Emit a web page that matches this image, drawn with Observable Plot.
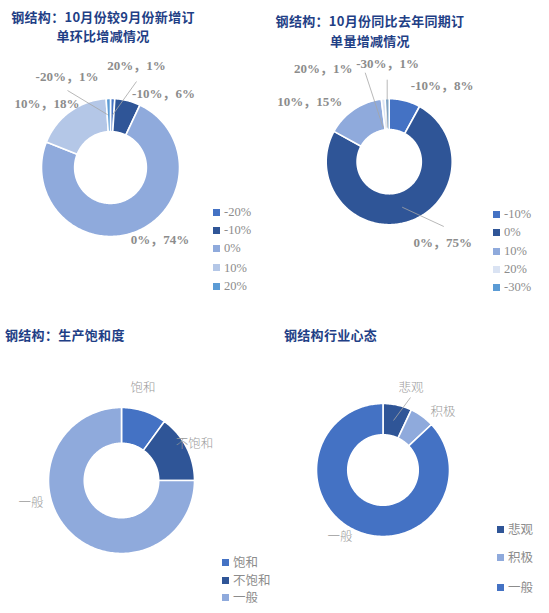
<!DOCTYPE html>
<html><head><meta charset="utf-8">
<script src="https://cdn.jsdelivr.net/npm/d3@7"></script>
<script src="https://cdn.jsdelivr.net/npm/@observablehq/plot@0.6"></script>
<style>
body{margin:0;background:#fff;}
#root{position:relative;width:549px;height:613px;overflow:hidden;background:#fff;}
.title{position:absolute;font-family:"Noto Sans CJK SC";font-weight:700;font-size:13px;color:#1f3f86;white-space:nowrap;text-align:center;line-height:19px;letter-spacing:0.3px;}
.leg{position:absolute;font-size:12.5px;color:#8c8c8c;white-space:nowrap;line-height:16px;}
.leg .sw{display:inline-block;width:7px;height:7px;margin-right:4px;vertical-align:middle;position:relative;top:-1px;}
.panel{position:absolute;}
</style></head><body><div id="root"></div>
<script>
// ---- data ----
const tlTitle = ["钢结构：10月份较9月份新增订", "单环比增减情况"];
const tlCats = ["-20%", "-10%", "0%", "10%", "20%"];
const tlVals = [1, 6, 74, 18, 1];

const trTitle = ["钢结构：10月份同比去年同期订", "单量增减情况"];
const trCats = ["-10%", "0%", "10%", "20%", "-30%"];
const trVals = [8, 75, 15, 1, 1];

const blTitle = ["钢结构：生产饱和度"];
const blCats = ["饱和", "不饱和", "一般"];
const blVals = [10, 15, 75];

const brTitle = ["钢结构行业心态"];
const brCats = ["悲观", "积极", "一般"];
const brVals = [7, 6, 87];

// ---- styles / layout ----
const tlColors = ["#4472c4", "#2f5597", "#8faadc", "#b4c7e7", "#5b9bd5"];
const trColors = ["#4472c4", "#2f5597", "#8faadc", "#dae3f3", "#5b9bd5"];
const blColors = ["#4472c4", "#2f5597", "#8faadc"];
const brColors = ["#2f5597", "#8faadc", "#4472c4"];

const root = document.getElementById("root");

function addTitle(lines, css, step) {
  lines.forEach((line, i) => {
    const d = document.createElement("div");
    d.className = "title";
    Object.assign(d.style, css);
    d.style.top = (css.topPx + i * step) + "px";
    d.textContent = line;
    root.appendChild(d);
  });
}

function addLegend(cats, colors, x, ys, font) {
  cats.forEach((c, i) => {
    const d = document.createElement("div");
    d.className = "leg";
    d.style.left = x + "px";
    d.style.top = (ys[i] - 8) + "px";
    d.style.fontFamily = font;
    d.innerHTML = `<span class="sw" style="background:${colors[i]}"></span>${c}`;
    root.appendChild(d);
  });
}

function donut(o) {
  const rows = o.cats.map((c, i) => ({c, v: o.vals[i]}));
  const arcs = d3.pie().sort(null).value(d => d.v)(rows);
  const pts = [];
  arcs.forEach(a => {
    const n = Math.max(3, Math.ceil((a.endAngle - a.startAngle) / 0.02));
    const ring = [];
    for (let i = 0; i <= n; i++) {
      const t = a.startAngle + (a.endAngle - a.startAngle) * i / n;
      ring.push([Math.sin(t), Math.cos(t)]);
    }
    for (let i = n; i >= 0; i--) {
      const t = a.startAngle + (a.endAngle - a.startAngle) * i / n;
      ring.push([o.k * Math.sin(t), o.k * Math.cos(t)]);
    }
    ring.push(ring[0]);
    ring.forEach(p => pts.push({key: a.data.c, x: p[0], y: p[1]}));
  });
  const lcx = o.cx - o.left, lcy = o.cy - o.top, R = o.R;
  const labels = o.cats.map((c, i) => ({
    text: o.labelText(c, o.vals[i]),
    x: o.labelPos[i][0] / R,
    y: -o.labelPos[i][1] / R
  }));
  const leaders = (o.leaders || []).map(l => ({
    x1: l[0][0] / R, y1: -l[0][1] / R, x2: l[1][0] / R, y2: -l[1][1] / R
  }));
  const chart = Plot.plot({
    width: o.w, height: o.h,
    margin: 0, marginTop: 0, marginRight: 0, marginBottom: 0, marginLeft: 0,
    x: {domain: [-lcx / R, (o.w - lcx) / R], range: [0, o.w], axis: null},
    y: {domain: [lcy / R, -(o.h - lcy) / R], range: [0, o.h], axis: null},
    color: {domain: o.cats, range: o.colors},
    style: {background: "transparent", overflow: "visible"},
    marks: [
      Plot.line(pts, {x: "x", y: "y", z: "key", fill: "key", stroke: "white", strokeWidth: 1.6, strokeLinejoin: "round", curve: "linear"}),
      Plot.link(leaders, {x1: "x1", y1: "y1", x2: "x2", y2: "y2", stroke: "#a6a6a6", strokeWidth: 0.8}),
      Plot.text(labels, {x: "x", y: "y", text: "text", textAnchor: "middle", lineAnchor: "middle",
        fontFamily: o.labelFont, fontSize: o.labelSize, fontWeight: o.labelWeight, fill: o.labelFill})
    ]
  });
  chart.classList.add("panel");
  chart.style.left = o.left + "px";
  chart.style.top = o.top + "px";
  root.appendChild(chart);
}

const numLabel = (c, v) => `${c}，${v}%`;
const catLabel = (c) => c;

// top-left
donut({cats: tlCats, vals: tlVals, colors: tlColors, left: 0, top: 0, w: 274, h: 306,
  cx: 110, cy: 167, R: 69, k: 0.52, labelText: numLabel,
  labelPos: [[-43.5, -91], [53, -74], [49.5, 72], [-63.5, -64], [26, -102]],
  leaders: [[[26, -86], [1.7, -52]], [[-43, -77], [-2.7, -52.7]]],
  labelFont: "'Liberation Serif', 'Noto Sans CJK SC', serif", labelSize: 13, labelWeight: 700, labelFill: "#8c8c8c"});
addTitle(tlTitle, {left: "0px", width: "206px", topPx: 7}, 19);
addLegend(tlCats, tlColors, 213, [212, 230, 248, 267.5, 286], "'Liberation Serif', serif");

// top-right
donut({cats: trCats, vals: trVals, colors: trColors, left: 275, top: 0, w: 274, h: 306,
  cx: 388.7, cy: 161.2, R: 63, k: 0.51, labelText: numLabel,
  labelPos: [[53, -76], [53.5, 81], [-79.5, -60], [-66, -93], [-1.5, -98]],
  leaders: [[[54.6, 64.8], [13, 45.5]], [[-24, -89], [-6, -34]], [[-2, -82], [-2, -34]]],
  labelFont: "'Liberation Serif', 'Noto Sans CJK SC', serif", labelSize: 13, labelWeight: 700, labelFill: "#8c8c8c"});
addTitle(trTitle, {left: "268px", width: "204px", topPx: 11}, 19.5);
addLegend(trCats, trColors, 493, [214, 232, 251, 269, 287], "'Liberation Serif', serif");

// bottom-left
donut({cats: blCats, vals: blVals, colors: blColors, left: 0, top: 306, w: 274, h: 307,
  cx: 121, cy: 480, R: 73, k: 0.51, labelText: catLabel,
  labelPos: [[21.5, -93], [73, -37], [-90.5, 22]],
  leaders: [],
  labelFont: "'Noto Sans CJK SC', sans-serif", labelSize: 12.5, labelWeight: 300, labelFill: "#9a9a9a"});
addTitle(blTitle, {left: "5px", textAlign: "left", topPx: 325}, 19);
addLegend(blCats, blColors, 222, [562, 579.5, 597], "'Noto Sans CJK SC', sans-serif");

// bottom-right
donut({cats: brCats, vals: brVals, colors: brColors, left: 275, top: 306, w: 274, h: 307,
  cx: 382.5, cy: 469.5, R: 66.5, k: 0.53, labelText: catLabel,
  labelPos: [[28, -82.5], [60, -58.5], [-43, 66.5]],
  leaders: [[[27.5, -72.5], [10.5, -49.5]]],
  labelFont: "'Noto Sans CJK SC', sans-serif", labelSize: 12.5, labelWeight: 300, labelFill: "#9a9a9a"});
addTitle(brTitle, {left: "284px", textAlign: "left", topPx: 325}, 19);
addLegend(brCats, brColors, 497, [529, 557, 587], "'Noto Sans CJK SC', sans-serif");
</script>
</body></html>
